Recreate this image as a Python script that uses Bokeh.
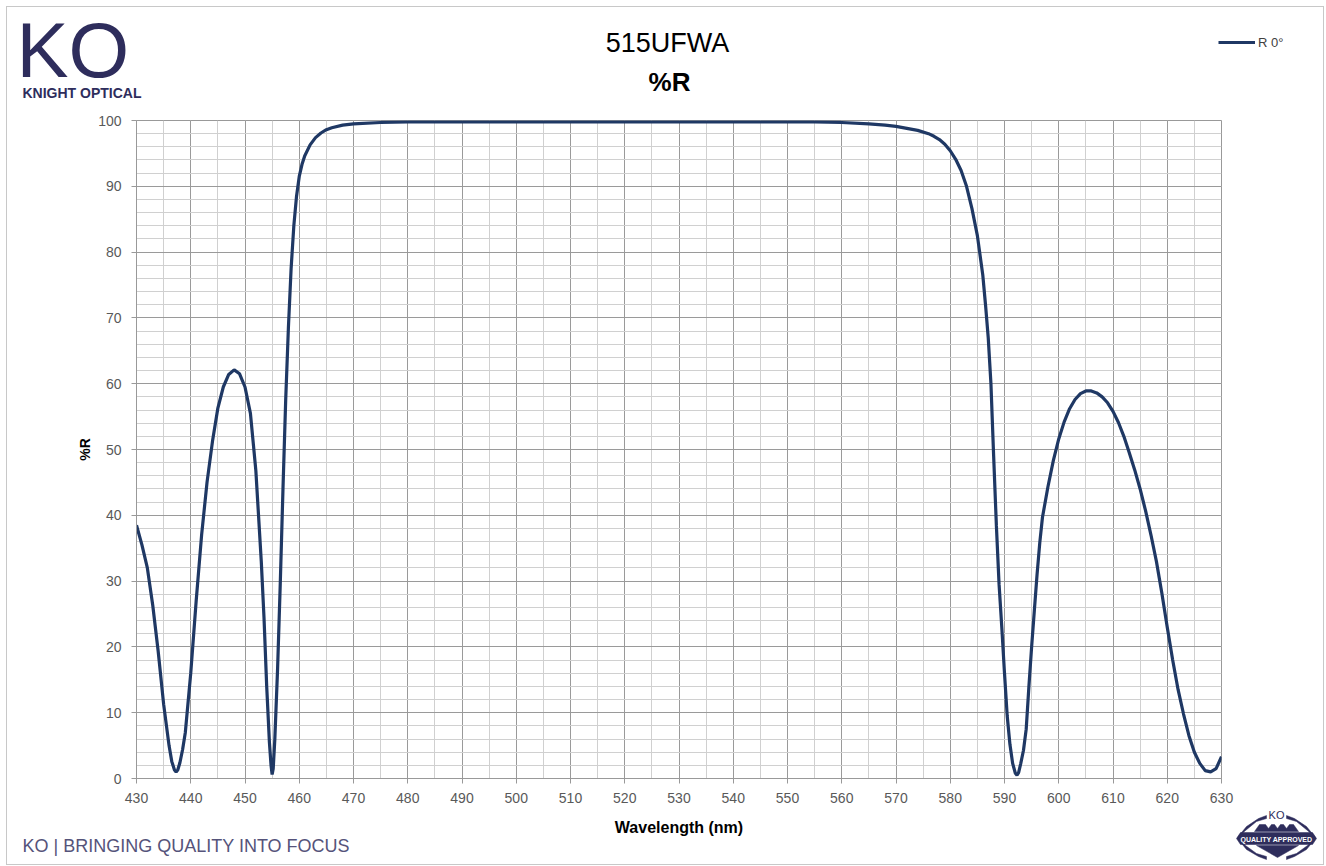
from bokeh.plotting import figure
from bokeh.models import (Range1d, SingleIntervalTicker, Legend, LegendItem, Title, Spacer)
from bokeh.layouts import column, row
from bokeh.embed import file_html
from bokeh.resources import INLINE
from bokeh.core.properties import value

# ---------------- data ----------------
title_text = "515UFWA"
subtitle_text = "%R"
series_name = "R 0°"
x_label = "Wavelength (nm)"
y_label = "%R"
footer_text = "KO | BRINGING QUALITY INTO FOCUS"

wavelength = [430, 431, 432, 433, 434, 435, 436, 436.5, 437, 437.3, 437.6, 438, 438.5, 439,
              440, 441, 442, 443, 444, 445, 446, 447, 448, 449, 450, 451, 452, 453, 453.5,
              454, 454.5, 454.8, 455, 455.2, 455.5, 456, 456.5, 457, 457.5, 458, 458.5, 459,
              459.5, 460, 460.5, 461, 462, 463, 464, 465, 466, 468, 470, 475, 480, 490, 500,
              510, 520, 530, 540, 550, 555, 560, 565, 568, 570, 572, 574, 576, 577, 578, 579,
              580, 581, 582, 583, 584, 585, 586, 586.5, 587, 587.5, 588, 588.5, 589, 589.5,
              590, 590.5, 591, 591.5, 592, 592.3, 592.6, 593, 593.5, 594, 594.5, 595, 595.5,
              596, 596.5, 597, 598, 599, 600, 601, 602, 603, 604, 605, 606, 607, 608, 609,
              610, 611, 612, 613, 614, 615, 616, 617, 618, 619, 620, 621, 622, 623, 624, 625,
              626, 627, 628, 629, 630]
reflectance = [38.5, 35.5, 32.0, 26.3, 19.3, 11.3, 5.0, 2.6, 1.3, 1.0, 1.3, 2.4, 4.4, 7.0,
               16.0, 27.0, 37.0, 45.0, 51.2, 56.3, 59.5, 61.4, 62.1, 61.5, 59.5, 55.5, 46.8,
               33.0, 24.5, 14.0, 5.5, 2.0, 0.6, 1.5, 6.0, 16.5, 29.6, 44.0, 57.5, 68.5, 77.5,
               84.0, 88.5, 91.5, 93.3, 94.6, 96.3, 97.4, 98.1, 98.6, 98.9, 99.3, 99.5, 99.7,
               99.8, 99.8, 99.8, 99.8, 99.8, 99.8, 99.8, 99.8, 99.8, 99.7, 99.5, 99.3, 99.1,
               98.8, 98.5, 98.0, 97.6, 97.1, 96.4, 95.4, 94.1, 92.4, 90.0, 86.6, 82.5, 76.5,
               72.0, 67.0, 60.0, 49.0, 38.5, 29.5, 23.0, 16.0, 9.5, 5.2, 2.3, 0.8, 0.5, 0.9,
               2.3, 4.3, 7.5, 14.0, 20.0, 25.5, 31.0, 35.8, 39.7, 44.3, 48.3, 51.6, 54.2, 56.2,
               57.6, 58.5, 58.9, 58.9, 58.6, 58.0, 57.1, 55.8, 54.1, 52.0, 49.5, 46.9, 44.0,
               40.7, 37.0, 33.0, 28.2, 23.0, 18.0, 13.5, 9.8, 6.5, 4.0, 2.3, 1.2, 1.0, 1.5, 3.3]

x_ticks_interval = 10
y_ticks_interval = 10

# ---------------- styling ----------------
FONT = "Liberation Sans"
NAVY = "#1f3864"
LOGO = "#2e2d5c"
LINE_W = 3.2

O = 7                 # page origin of the framed content
TOP_H = 103           # header height (page y 7..110)
MAIN_W = 1227         # main chart width (page x 7..1234)
MAIN_H = 754          # main chart height (page y 110..864)
FULL_W = 1316
BADGE_H = 58          # badge strip height (page y 806..864)

# ---------------- header (titles, logo, legend) ----------------
hdr = figure(width=FULL_W, height=TOP_H, output_backend="svg", toolbar_location=None,
             x_range=Range1d(O, O + FULL_W), y_range=Range1d(O + TOP_H, O),
             x_axis_type=None, y_axis_type=None, min_border=0)
hdr.grid.visible = False
hdr.outline_line_color = None
hdr.background_fill_color = "white"
hdr.border_fill_color = "white"

def htext(fig, x, y, text, size, color="#000000", style="normal", align="left", base="middle"):
    fig.text(x=[x], y=[y], text=[text], text_font=value(FONT), text_font_size=size,
             text_color=color, text_font_style=style, text_align=align, text_baseline=base)

htext(hdr, 667, 42, title_text, "27px", align="center")
htext(hdr, 669, 81, subtitle_text, "26px", style="bold", align="center")
htext(hdr, 16, 49, "KO", "78px", color=LOGO)
htext(hdr, 22, 92.5, "KNIGHT OPTICAL", "14px", color=LOGO, style="bold")

legend_proxy = hdr.line(x=[float("nan")], y=[float("nan")], line_color=NAVY, line_width=LINE_W)
legend = Legend(items=[LegendItem(label=series_name, renderers=[legend_proxy])],
                location=(1211, TOP_H - 27 - 16), orientation="vertical",
                glyph_width=37, glyph_height=16, label_height=16, label_standoff=3,
                padding=0, margin=0, border_line_color=None, background_fill_alpha=0,
                label_text_font=FONT, label_text_font_size="13px", label_text_color="#404040")
hdr.add_layout(legend, "center")

# ---------------- main chart ----------------
p = figure(width=MAIN_W, height=MAIN_H, output_backend="svg", toolbar_location=None,
           x_range=Range1d(430, 630), y_range=Range1d(0, 100),
           min_border_left=136 - O, min_border_right=MAIN_W + O - 1221,
           min_border_top=120 - (O + TOP_H), min_border_bottom=(O + TOP_H + MAIN_H) - 778)
p.background_fill_color = "white"
p.border_fill_color = "white"
p.outline_line_color = "#999999"

xt = SingleIntervalTicker(interval=x_ticks_interval, num_minor_ticks=2)
yt = SingleIntervalTicker(interval=y_ticks_interval, num_minor_ticks=5)
p.xaxis.ticker = xt
p.yaxis.ticker = yt
p.xgrid.ticker = xt
p.ygrid.ticker = yt

for g in (p.xgrid, p.ygrid):
    g.grid_line_color = "#9a9a9a"
    g.grid_line_width = 1
    g.minor_grid_line_color = "#d0d0d0"
    g.minor_grid_line_width = 1

for ax in (p.xaxis, p.yaxis):
    ax.axis_line_color = "#999999"
    ax.major_tick_line_color = "#999999"
    ax.major_tick_out = 5
    ax.major_tick_in = 0
    ax.minor_tick_line_color = None
    ax.major_label_text_font = FONT
    ax.major_label_text_font_size = "14px"
    ax.major_label_text_color = "#595959"
    ax.axis_label_text_font = FONT
    ax.axis_label_text_font_style = "bold"
    ax.axis_label_text_color = "#000000"

p.xaxis.axis_label = x_label
p.xaxis.axis_label_text_font_size = "16px"
p.xaxis.major_label_standoff = 9
p.xaxis.axis_label_standoff = 13
p.yaxis.axis_label = y_label
p.yaxis.axis_label_text_font_size = "14px"
p.yaxis.major_label_standoff = 10
p.yaxis.axis_label_standoff = 2

p.line(wavelength, reflectance, line_color=NAVY, line_width=LINE_W)

p.add_layout(Title(text=footer_text, align="left", offset=-(136 - 22), standoff=-10,
                   text_font=FONT, text_font_size="18px", text_font_style="normal",
                   text_color="#55537a"), "below")

# ---------------- quality badge ----------------
BW = FULL_W - MAIN_W
B_TOP = O + TOP_H + MAIN_H - BADGE_H
bdg = figure(width=BW, height=BADGE_H, output_backend="svg", toolbar_location=None,
             x_range=Range1d(O + MAIN_W, O + FULL_W),
             y_range=Range1d(B_TOP + BADGE_H, B_TOP),
             x_axis_type=None, y_axis_type=None, min_border=0)
bdg.grid.visible = False
bdg.outline_line_color = None
bdg.background_fill_color = "white"
bdg.border_fill_color = "white"

badge_xs = [
    [1237, 1246, 1258, 1266, 1266, 1256, 1245],
    [1315, 1306, 1294, 1286, 1286, 1296, 1307],
    [1237, 1246, 1258, 1266, 1266, 1256, 1245],
    [1315, 1306, 1294, 1286, 1286, 1296, 1307],
    [1259, 1265, 1268, 1271, 1274, 1277, 1280, 1283, 1286, 1289, 1293, 1298, 1254],
    [1256, 1298, 1277],
    [1240, 1312, 1316, 1312, 1240, 1236],
]
badge_ys = [
    [837, 826, 818, 815, 818, 821, 830],
    [837, 826, 818, 815, 818, 821, 830],
    [838, 849, 856, 859, 856, 853, 845],
    [838, 849, 856, 859, 856, 853, 845],
    [824, 824, 828, 824, 824, 828, 824, 824, 828, 824, 824, 831, 831],
    [845, 845, 857],
    [832, 832, 838, 844, 844, 838],
]
bdg.patches(badge_xs, badge_ys, fill_color=LOGO, line_color=LOGO, line_width=0.5)
htext(bdg, 1276, 814, "KO", "11px", color=LOGO, align="center")
htext(bdg, 1276, 838.5, "QUALITY APPROVED", "7px", color="white", style="bold",
      align="center")

right_col = column(Spacer(width=BW, height=MAIN_H - BADGE_H), bdg)
content = column(hdr, row(p, right_col), styles={"border": "1px solid #c8c8c8"})
layout = column(Spacer(height=6), row(Spacer(width=6), content))

open("out.html", "w").write(file_html(layout, INLINE))
